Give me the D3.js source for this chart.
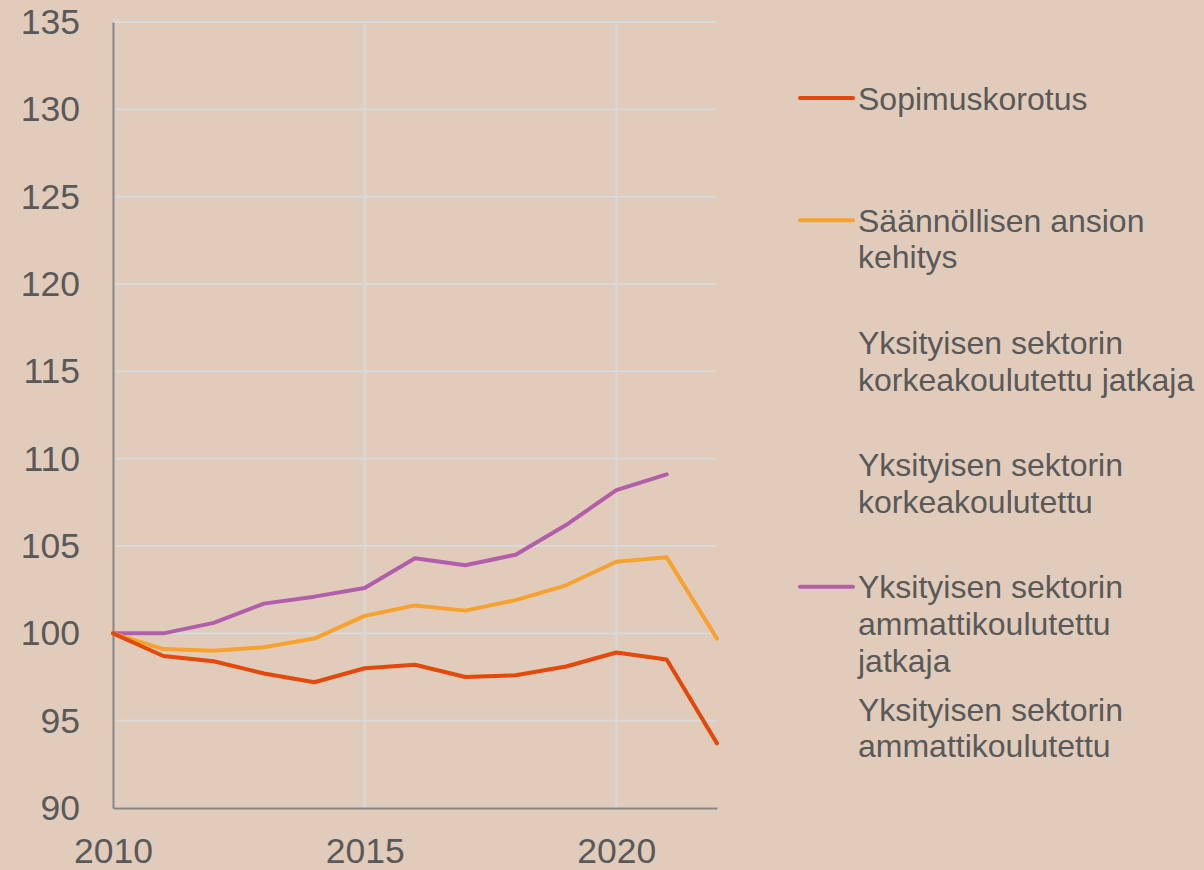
<!DOCTYPE html>
<html>
<head>
<meta charset="utf-8">
<script src="https://cdn.jsdelivr.net/npm/d3@7"></script>
<style>
  html, body { margin: 0; padding: 0; background: #e1ccbb; }
  svg { display: block; }
  text { font-family: "Liberation Sans", Arial, sans-serif; fill: #595959; }
</style>
</head>
<body>
<svg id="chart" width="1204" height="870"></svg>
<script>

var years = [2010, 2011, 2012, 2013, 2014, 2015, 2016, 2017, 2018, 2019, 2020, 2021, 2022];

var sopimuskorotus = [100, 98.7, 98.4, 97.7, 97.2, 98.0, 98.2, 97.5, 97.6, 98.1, 98.9, 98.5, 93.7];
var saannollinenAnsio = [100, 99.1, 99.0, 99.2, 99.7, 101.0, 101.6, 101.3, 101.9, 102.75, 104.1, 104.35, 99.7];
var ammattiJatkaja = [100, 100.0, 100.6, 101.7, 102.1, 102.6, 104.3, 103.9, 104.5, 106.2, 108.2, 109.1, null];

var xTicks = [2010, 2015, 2020];
var yTicks = [90, 95, 100, 105, 110, 115, 120, 125, 130, 135];

// legend entries; series without data are listed but drawn with no line
var legendItems = [
  { lines: ["Sopimuskorotus"], color: "#e2490b", values: sopimuskorotus },
  { lines: ["Säännöllisen ansion", "kehitys"], color: "#f7a22e", values: saannollinenAnsio },
  { lines: ["Yksityisen sektorin", "korkeakoulutettu jatkaja"], color: null, values: null },
  { lines: ["Yksityisen sektorin", "korkeakoulutettu"], color: null, values: null },
  { lines: ["Yksityisen sektorin", "ammattikoulutettu", "jatkaja"], color: "#b15fab", values: ammattiJatkaja },
  { lines: ["Yksityisen sektorin", "ammattikoulutettu"], color: null, values: null }
];

var svg = d3.select("#chart");

var x = d3.scaleLinear().domain([2010, 2022]).range([113, 717]);
var y = d3.scaleLinear().domain([90, 135]).range([808, 22]);

// gridlines
var grid = svg.append("g");
grid.selectAll("line.h").data(yTicks).enter().append("line")
  .attr("x1", x(2010)).attr("x2", x(2022))
  .attr("y1", function (d){ return y(d); })
  .attr("y2", function (d){ return y(d); })
  .style("stroke", "#d9d9d9")
  .style("stroke-width", "2px");
grid.selectAll("line.v").data(xTicks.slice(1)).enter().append("line")
  .attr("x1", function (d){ return x(d); })
  .attr("x2", function (d){ return x(d); })
  .attr("y1", y(135)).attr("y2", y(90))
  .style("stroke", "#d9d9d9")
  .style("stroke-width", "2px");

// axes
var yAxisG = svg.append("g")
  .attr("transform", "translate(" + x(2010) + ",0)")
  .call(d3.axisLeft(y).tickValues(yTicks).tickSize(0).tickPadding(33));
var xAxisG = svg.append("g")
  .attr("transform", "translate(0," + y(90) + ")")
  .call(d3.axisBottom(x).tickValues(xTicks).tickFormat(d3.format("d")).tickSize(0).tickPadding(30));

[yAxisG, xAxisG].forEach(function (g){
  g.select(".domain").style("stroke", "#868686").style("stroke-width", "2px");
  g.selectAll("text").style("font-size", "35.5px").style("fill", "#595959")
    .style("font-family", "'Liberation Sans', Arial, sans-serif");
});

// lines
var line = d3.line()
  .defined(function (d){ return d != null; })
  .x(function (d, i){ return x(years[i]); })
  .y(function (d){ return y(d); });

var series = legendItems.filter(function (d){ return d.values; });
svg.append("g").selectAll("path").data(series.slice().reverse()).enter().append("path")
  .attr("d", function (d){ return line(d.values); })
  .style("fill", "none")
  .style("stroke", function (d){ return d.color; })
  .style("stroke-width", "4px")
  .style("stroke-linejoin", "round")
  .style("stroke-linecap", "round");

// legend
var legend = svg.append("g");
var item = legend.selectAll("g").data(legendItems).enter().append("g")
  .attr("transform", function (d, i){ return "translate(0," + (98 + i * 122.2) + ")"; });

item.filter(function (d){ return d.color; }).append("line")
  .attr("x1", 800).attr("x2", 853)
  .attr("y1", 0).attr("y2", 0)
  .style("stroke", function (d){ return d.color; })
  .style("stroke-width", "4px")
  .style("stroke-linecap", "round");

item.append("text")
  .attr("x", 858)
  .style("font-size", "32px")
  .selectAll("tspan").data(function (d){ return d.lines; }).enter().append("tspan")
  .attr("x", 858)
  .attr("y", function (d, i){ return 11.5 + i * 36.7; })
  .text(function (d){ return d; });

</script>
</body>
</html>
